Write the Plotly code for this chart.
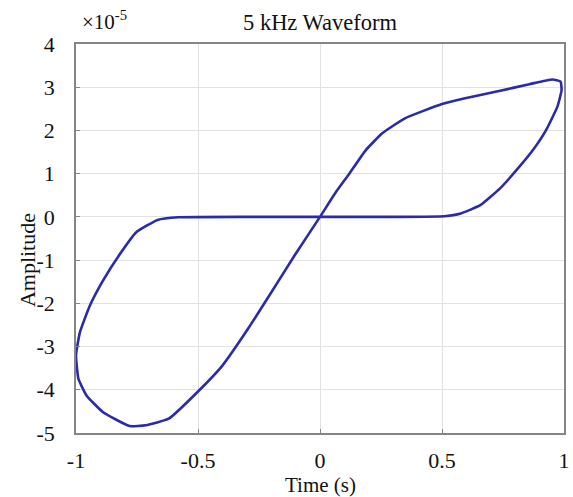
import plotly.graph_objects as go

# Hysteresis-like loop (units of 1e-5)
time_s = [0.0, 0.066, 0.12, 0.187, 0.254, 0.348, 0.5, 0.59, 0.724, 0.858, 0.952, 0.986,
          0.99, 0.973, 0.926, 0.872, 0.805, 0.738, 0.657, 0.577, 0.51, 0.3, 0.0, -0.3,
          -0.58, -0.666, -0.754, -0.82, -0.89, -0.943, -0.984, -1.0, -0.99, -0.957,
          -0.889, -0.78, -0.714, -0.62, -0.5, -0.40, -0.295, -0.2, -0.105, 0.0]
amplitude = [0.0, 0.58, 1.0, 1.54, 1.93, 2.28, 2.61, 2.74, 2.90, 3.07, 3.18, 3.13,
             2.93, 2.55, 2.0, 1.54, 1.08, 0.66, 0.27, 0.08, 0.015, 0.0, 0.0, 0.0,
             -0.01, -0.07, -0.36, -0.86, -1.48, -2.05, -2.67, -3.2, -3.75, -4.13,
             -4.52, -4.84, -4.82, -4.67, -4.04, -3.44, -2.59, -1.75, -0.9, 0.0]

x_ticks = [-1, -0.5, 0, 0.5, 1]
x_tick_text = ["-1", "-0.5", "0", "0.5", "1"]
y_ticks = [-5, -4, -3, -2, -1, 0, 1, 2, 3, 4]
y_tick_text = ["-5", "-4", "-3", "-2", "-1", "0", "1", "2", "3", "4"]

FONT = '"Liberation Serif", "Times New Roman", Times, serif'
TXT = "#111111"

fig = go.Figure()
fig.add_trace(go.Scatter(x=time_s, y=amplitude, mode="lines",
                         line=dict(color="#2a2aaa", width=2.6, shape="spline", smoothing=0.4),
                         showlegend=False, hoverinfo="skip"))

axis_common = dict(showgrid=True, gridcolor="#e2e2e2", gridwidth=1, zeroline=False,
                   showline=True, linecolor="#858585", linewidth=1.5, mirror=True,
                   ticks="inside", ticklen=4, tickcolor="#858585",
                   tickfont=dict(family=FONT, size=22, color=TXT))

fig.update_xaxes(range=[-1, 1], tickvals=x_ticks, ticktext=x_tick_text,
                 ticklabelstandoff=7, ticklabeloverflow="allow", **axis_common)
fig.update_yaxes(range=[-5, 4], tickvals=y_ticks, ticktext=y_tick_text,
                 ticklabelstandoff=15, **axis_common)

fig.update_layout(
    width=573, height=497,
    margin=dict(l=76, r=3, t=44, b=64),
    paper_bgcolor="white", plot_bgcolor="white",
    font=dict(family=FONT, color=TXT),
    title=dict(text="5 kHz Waveform", x=0.5, xanchor="center", xref="paper",
               y=1 - 22 / 497, yanchor="middle", yref="container",
               font=dict(family=FONT, size=22.5, color=TXT)),
    annotations=[
        dict(text="×10<sup>-5</sup>", xref="paper", yref="paper", x=0.0, y=1.0,
             xanchor="left", yanchor="bottom", yshift=8, xshift=4, showarrow=False,
             font=dict(family=FONT, size=21, color=TXT)),
        dict(text="Time (s)", xref="paper", yref="paper", x=0.5, y=0,
             xanchor="center", yanchor="middle", yshift=-52, showarrow=False,
             font=dict(family=FONT, size=21, color=TXT)),
        dict(text="Amplitude", xref="paper", y=-1.0, yref="y", x=0,
             xanchor="center", yanchor="middle", xshift=-49, textangle=-90,
             showarrow=False, font=dict(family=FONT, size=22, color=TXT)),
    ],
)

fig.write_html("out.html")
